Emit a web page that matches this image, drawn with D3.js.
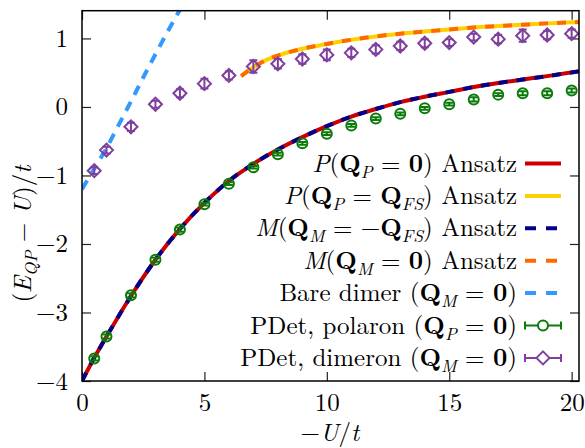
<!DOCTYPE html>
<html>
<head>
<meta charset="utf-8">
<script src="https://cdn.jsdelivr.net/npm/d3@7"></script>
<style>
body { margin: 0; background: #fff; }
</style>
</head>
<body>
<script>
// Chart data
const uPoints = [0.5, 1, 2, 3, 4, 5, 6, 7, 8, 9, 10, 11, 12, 13, 14, 15, 16, 17, 18, 19, 20];
const polaronE = [-3.67, -3.35, -2.75, -2.23, -1.79, -1.42, -1.12, -0.88, -0.69, -0.53, -0.39, -0.27, -0.17, -0.10, -0.02, 0.04, 0.11, 0.18, 0.20, 0.20, 0.24];
const polaronErr = [0.03, 0.03, 0.03, 0.03, 0.03, 0.02, 0.02, 0.02, 0.02, 0.02, 0.02, 0.02, 0.02, 0.02, 0.02, 0.02, 0.03, 0.02, 0.03, 0.03, 0.03];
const dimeronE = [-0.93, -0.63, -0.29, 0.04, 0.20, 0.34, 0.46, 0.59, 0.63, 0.70, 0.76, 0.79, 0.84, 0.89, 0.93, 0.94, 1.02, 0.99, 1.04, 1.05, 1.07];
const dimeronErr = [0.05, 0.05, 0.06, 0.05, 0.06, 0.07, 0.06, 0.09, 0.07, 0.07, 0.08, 0.06, 0.06, 0.06, 0.06, 0.05, 0.05, 0.06, 0.09, 0.06, 0.06];

const ansatzU = [0, 0.5, 1, 1.5, 2, 3, 4, 5, 6, 7, 8, 9, 10, 11, 12, 13, 14, 15, 16, 17, 18, 19, 20.3];
const polaronAnsatz = [-4, -3.66, -3.35, -3.05, -2.76, -2.23, -1.78, -1.40, -1.08, -0.83, -0.62, -0.44, -0.28, -0.14, -0.03, 0.07, 0.15, 0.22, 0.29, 0.35, 0.40, 0.45, 0.52];

const fsU = [6.5, 7, 7.5, 8, 9, 10, 11, 12, 13, 14, 15, 16, 17, 18, 19, 20.3];
const fsAnsatz = [0.45, 0.58, 0.68, 0.75, 0.85, 0.92, 0.98, 1.03, 1.07, 1.10, 1.13, 1.16, 1.18, 1.20, 1.22, 1.24];

const bareU = [0, 0.5, 1, 1.5, 2, 2.5, 3, 3.5, 4];
const bareDimer = [-1.2, -0.9, -0.6, -0.26, 0.08, 0.43, 0.77, 1.1, 1.42];

const xTicks = [0, 5, 10, 15, 20];
const yTicks = [-4, -3, -2, -1, 0, 1];

// Legend labels: [text, style] pieces
const legendLabels = [
    [["P", "i"], ["(", "r"], ["Q", "b"], ["P", "s"], [" = ", "r"], ["0", "b"], [") Ansatz", "r"]],
    [["P", "i"], ["(", "r"], ["Q", "b"], ["P", "s"], [" = ", "r"], ["Q", "b"], ["FS", "s"], [") Ansatz", "r"]],
    [["M", "i"], ["(", "r"], ["Q", "b"], ["M", "s"], [" = \u2212", "r"], ["Q", "b"], ["FS", "s"], [") Ansatz", "r"]],
    [["M", "i"], ["(", "r"], ["Q", "b"], ["M", "s"], [" = ", "r"], ["0", "b"], [") Ansatz", "r"]],
    [["Bare dimer (", "r"], ["Q", "b"], ["M", "s"], [" = ", "r"], ["0", "b"], [")", "r"]],
    [["PDet, polaron (", "r"], ["Q", "b"], ["P", "s"], [" = ", "r"], ["0", "b"], [")", "r"]],
    [["PDet, dimeron (", "r"], ["Q", "b"], ["M", "s"], [" = ", "r"], ["0", "b"], [")", "r"]]
];

// Dimensions
const width = 585;
const height = 448;
const margin = { top: 10.7, right: 6, bottom: 67, left: 82 };
const FONT = "'Latin Modern Roman', 'Liberation Serif', serif";
const fontSize = 25;
const subSize = 17.5;
const subShift = 6;
const tickLen = 9;

const svg = d3.select("body").append("svg")
    .attr("width", width)
    .attr("height", height)
    .style("font-family", FONT);

const xScale = d3.scaleLinear()
    .domain([0, 20.3])
    .range([margin.left, width - margin.right]);

const yScale = d3.scaleLinear()
    .domain([-4, 1.405])
    .range([height - margin.bottom, margin.top]);

svg.append("clipPath").attr("id", "plot-clip")
    .append("rect")
    .attr("x", margin.left)
    .attr("y", margin.top)
    .attr("width", width - margin.left - margin.right)
    .attr("height", height - margin.top - margin.bottom);

// Axes with inward ticks on all four sides
const bottomAxis = svg.append("g")
    .attr("transform", `translate(0, ${yScale.range()[0]})`)
    .call(d3.axisBottom(xScale).tickValues(xTicks).tickSize(-tickLen).tickFormat(d3.format("d")));
bottomAxis.selectAll("text").attr("y", 30).attr("dy", null);

svg.append("g")
    .attr("transform", `translate(0, ${yScale.range()[1]})`)
    .call(d3.axisTop(xScale).tickValues(xTicks).tickSize(-tickLen).tickFormat(""));

const leftAxis = svg.append("g")
    .attr("transform", `translate(${margin.left}, 0)`)
    .call(d3.axisLeft(yScale).tickValues(yTicks).tickSize(-tickLen).tickPadding(14).tickFormat(d3.format("d")));
leftAxis.selectAll("text").attr("dy", "0.32em");

svg.append("g")
    .attr("transform", `translate(${xScale.range()[1]}, 0)`)
    .call(d3.axisRight(yScale).tickValues(yTicks).tickSize(-tickLen).tickFormat(""));

svg.selectAll(".domain").remove();
svg.selectAll(".tick line").attr("stroke", "#222").attr("stroke-width", 1.2);
svg.selectAll(".tick text")
    .attr("fill", "#000")
    .style("font-family", FONT)
    .style("font-size", fontSize + "px");

// Curves
const plot = svg.append("g").attr("clip-path", "url(#plot-clip)");

function makeLine(xs, ys) {
    return d3.line()
        .x((d, i) => xScale(xs[i]))
        .y(d => yScale(d))
        .curve(d3.curveMonotoneX)(ys);
}

const colors = {
    red: "#cc0000",
    yellow: "#ffd000",
    navy: "#00008b",
    orange: "#ff6a00",
    sky: "#3399ff",
    green: "#0a7a0a",
    purple: "#7f3f9f"
};

plot.append("path").attr("d", makeLine(ansatzU, polaronAnsatz))
    .attr("fill", "none").attr("stroke", colors.red).attr("stroke-width", 4);
plot.append("path").attr("d", makeLine(fsU, fsAnsatz))
    .attr("fill", "none").attr("stroke", colors.yellow).attr("stroke-width", 4);
plot.append("path").attr("d", makeLine(ansatzU, polaronAnsatz))
    .attr("fill", "none").attr("stroke", colors.navy).attr("stroke-width", 4)
    .attr("stroke-dasharray", "9,9");
plot.append("path").attr("d", makeLine(fsU, fsAnsatz))
    .attr("fill", "none").attr("stroke", colors.orange).attr("stroke-width", 4)
    .attr("stroke-dasharray", "9,9");
plot.append("path").attr("d", makeLine(bareU, bareDimer))
    .attr("fill", "none").attr("stroke", colors.sky).attr("stroke-width", 4)
    .attr("stroke-dasharray", "10,8");

// Error bar points
function drawMarker(g, cx, cy, shape) {
    if (shape === "circle") {
        g.append("circle").attr("cx", cx).attr("cy", cy).attr("r", 5);
    } else {
        const r = 6.5;
        g.append("path").attr("d", `M${cx - r},${cy}L${cx},${cy - r}L${cx + r},${cy}L${cx},${cy + r}Z`);
    }
}

function drawErrorPoints(values, errs, color, shape) {
    const g = plot.append("g").attr("stroke", color).attr("stroke-width", 2).attr("fill", "none");
    values.forEach((v, i) => {
        const cx = xScale(uPoints[i]);
        const y0 = yScale(v - errs[i]);
        const y1 = yScale(v + errs[i]);
        g.append("line").attr("x1", cx).attr("x2", cx).attr("y1", y0).attr("y2", y1);
        g.append("line").attr("x1", cx - 4).attr("x2", cx + 4).attr("y1", y0).attr("y2", y0);
        g.append("line").attr("x1", cx - 4).attr("x2", cx + 4).attr("y1", y1).attr("y2", y1);
        drawMarker(g, cx, yScale(v), shape);
    });
}

drawErrorPoints(polaronE, polaronErr, colors.green, "circle");
drawErrorPoints(dimeronE, dimeronErr, colors.purple, "diamond");

// Frame
svg.append("rect")
    .attr("x", margin.left)
    .attr("y", margin.top)
    .attr("width", width - margin.left - margin.right)
    .attr("height", height - margin.top - margin.bottom)
    .attr("fill", "none")
    .attr("stroke", "#000")
    .attr("stroke-width", 1.5);

// Legend
const legendKinds = [
    { color: colors.red, dash: null },
    { color: colors.yellow, dash: null },
    { color: colors.navy, dash: "11,10" },
    { color: colors.orange, dash: "11,10" },
    { color: colors.sky, dash: "11,10" },
    { color: colors.green, marker: "circle" },
    { color: colors.purple, marker: "diamond" }
];

const legendTextX = 517;
const sampleX0 = 525;
const sampleX1 = 561;
const legendY0 = 163.5;
const legendStep = 32.4;

legendLabels.forEach((parts, i) => {
    const cy = legendY0 + i * legendStep;
    const t = svg.append("text")
        .attr("x", legendTextX)
        .attr("y", cy + 8)
        .attr("text-anchor", "end")
        .style("font-family", FONT)
        .style("font-size", fontSize + "px");
    let shifted = false;
    parts.forEach(([str, style]) => {
        const span = t.append("tspan").text(str);
        if (style === "s") {
            span.attr("dy", shifted ? 0 : subShift).style("font-size", subSize + "px").style("font-style", "italic");
            shifted = true;
        } else {
            if (shifted) span.attr("dy", -subShift);
            shifted = false;
            if (style === "i") span.style("font-style", "italic");
            if (style === "b") span.style("font-weight", "bold");
        }
    });

    const kind = legendKinds[i];
    if (kind.marker) {
        const g = svg.append("g").attr("stroke", kind.color).attr("stroke-width", 2).attr("fill", "none");
        g.append("line").attr("x1", sampleX0).attr("x2", sampleX1).attr("y1", cy).attr("y2", cy);
        g.append("line").attr("x1", sampleX0).attr("x2", sampleX0).attr("y1", cy - 4).attr("y2", cy + 4);
        g.append("line").attr("x1", sampleX1).attr("x2", sampleX1).attr("y1", cy - 4).attr("y2", cy + 4);
        const m = g.append("g").attr("fill", "#fff");
        drawMarker(m, (sampleX0 + sampleX1) / 2, cy, kind.marker);
    } else {
        svg.append("line")
            .attr("x1", sampleX0).attr("x2", sampleX1)
            .attr("y1", cy).attr("y2", cy)
            .attr("stroke", kind.color)
            .attr("stroke-width", 4)
            .attr("stroke-dasharray", kind.dash);
    }
});

// Axis titles
const xt = svg.append("text")
    .attr("x", 330)
    .attr("y", 441)
    .attr("text-anchor", "middle")
    .style("font-family", FONT)
    .style("font-size", fontSize + "px");
xt.append("tspan").text("\u2212");
xt.append("tspan").text("U").style("font-style", "italic");
xt.append("tspan").text("/");
xt.append("tspan").text("t").style("font-style", "italic");

const yt = svg.append("text")
    .attr("transform", "translate(31, 234) rotate(-90)")
    .attr("text-anchor", "middle")
    .style("font-family", FONT)
    .style("font-size", fontSize + "px");
yt.append("tspan").text("(");
yt.append("tspan").text("E").style("font-style", "italic");
yt.append("tspan").text("QP").attr("dy", subShift).style("font-size", subSize + "px").style("font-style", "italic");
yt.append("tspan").text(" \u2212 ").attr("dy", -subShift);
yt.append("tspan").text("U").style("font-style", "italic");
yt.append("tspan").text(")/");
yt.append("tspan").text("t").style("font-style", "italic");
</script>
</body>
</html>
